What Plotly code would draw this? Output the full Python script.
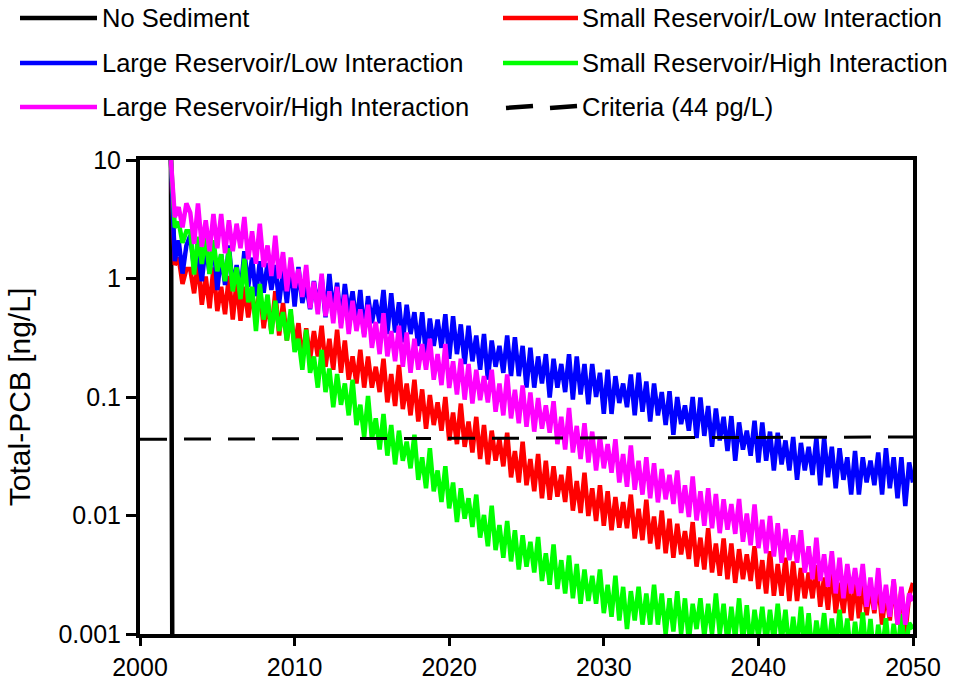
import plotly.graph_objects as go

# Quarterly time steps of the model run, 2002.0 - 2050.0
years = [2002 + 0.25 * k for k in range(193)]

# Total-PCB water-column concentration [ng/L], one row per year (4 quarters)
no_sediment_years = [2002.0, 2002.15, 2050.0]
no_sediment = [10.0, 1e-6, 1e-6]

small_low = [10.0,
    1.3, 1.5, 0.9, 1.2,
    1.2, 0.75, 1.35, 0.6,
    1.04, 0.56, 1.24, 0.53,
    0.85, 0.5, 1.05, 0.45,
    0.94, 0.44, 0.85, 0.47,
    0.75, 0.45, 0.85, 0.38,
    0.65, 0.35, 0.78, 0.33,
    0.62, 0.3, 0.5, 0.27,
    0.42, 0.2, 0.38, 0.21,
    0.36, 0.22, 0.4, 0.18,
    0.31, 0.17, 0.37, 0.16,
    0.3, 0.14, 0.22, 0.13,
    0.25, 0.12, 0.22, 0.12,
    0.18, 0.11, 0.21, 0.09,
    0.156, 0.084, 0.186, 0.079,
    0.13, 0.07, 0.14, 0.062,
    0.116, 0.054, 0.104, 0.058,
    0.09, 0.052, 0.1, 0.043,
    0.074, 0.04, 0.088, 0.038,
    0.062, 0.034, 0.068, 0.03,
    0.058, 0.027, 0.052, 0.029,
    0.044, 0.026, 0.05, 0.021,
    0.035, 0.019, 0.042, 0.018,
    0.03, 0.016, 0.033, 0.014,
    0.029, 0.0136, 0.026, 0.0144,
    0.022, 0.013, 0.026, 0.011,
    0.0195, 0.0105, 0.023, 0.0099,
    0.017, 0.009, 0.018, 0.0082,
    0.016, 0.0075, 0.0143, 0.0079,
    0.013, 0.0078, 0.015, 0.0064,
    0.0114, 0.0062, 0.0136, 0.0058,
    0.0098, 0.0052, 0.011, 0.0048,
    0.0094, 0.0044, 0.0085, 0.0047,
    0.0074, 0.0043, 0.0088, 0.0037,
    0.0065, 0.0035, 0.0078, 0.0033,
    0.0058, 0.0031, 0.0064, 0.0029,
    0.0058, 0.0027, 0.0052, 0.0029,
    0.0047, 0.0028, 0.0055, 0.0024,
    0.0042, 0.0022, 0.005, 0.0021,
    0.0039, 0.0021, 0.0044, 0.0019,
    0.0041, 0.0019, 0.0036, 0.002,
    0.0033, 0.002, 0.0038, 0.0017,
    0.003, 0.0016, 0.0036, 0.0015,
    0.0027, 0.0015, 0.003, 0.0013,
    0.0029, 0.00136, 0.0026, 0.00144,
    0.0025, 0.0015, 0.0028, 0.0012,
    0.0023, 0.0013, 0.0028, 0.0012,
    0.0024, 0.001, 0.0021, 0.0027,
]

large_low = [10.0,
    1.4, 2.1, 1.1, 1.9,
    2.3, 1.2, 1.6, 0.95,
    1.9, 1.1, 2.1, 0.8,
    1.6, 0.88, 1.9, 0.83,
    1.3, 0.75, 1.7, 0.85,
    1.5, 0.71, 1.4, 0.76,
    1.35, 0.8, 1.3, 0.62,
    1.15, 0.62, 1.35, 0.58,
    1.25, 0.62, 0.9, 0.55,
    0.95, 0.58, 1.02, 0.47,
    1.09, 0.51, 0.92, 0.42,
    0.9, 0.5, 0.78, 0.41,
    0.8, 0.34, 0.71, 0.42,
    0.66, 0.42, 0.8, 0.34,
    0.75, 0.35, 0.63, 0.29,
    0.6, 0.34, 0.52, 0.27,
    0.52, 0.22, 0.46, 0.27,
    0.45, 0.26, 0.5, 0.21,
    0.48, 0.23, 0.41, 0.19,
    0.4, 0.2, 0.33, 0.17,
    0.34, 0.14, 0.3, 0.18,
    0.27, 0.16, 0.33, 0.15,
    0.32, 0.15, 0.27, 0.12,
    0.26, 0.12, 0.22, 0.13,
    0.23, 0.099, 0.21, 0.12,
    0.19, 0.11, 0.23, 0.095,
    0.22, 0.105, 0.19, 0.087,
    0.19, 0.1, 0.16, 0.072,
    0.17, 0.072, 0.15, 0.089,
    0.13, 0.082, 0.155, 0.07,
    0.16, 0.075, 0.135, 0.062,
    0.13, 0.07, 0.11, 0.058,
    0.112, 0.048, 0.1, 0.059,
    0.085, 0.052, 0.1, 0.045,
    0.099, 0.047, 0.084, 0.038,
    0.08, 0.043, 0.068, 0.035,
    0.069, 0.029, 0.061, 0.036,
    0.052, 0.032, 0.063, 0.028,
    0.061, 0.029, 0.051, 0.024,
    0.05, 0.027, 0.043, 0.024,
    0.046, 0.02, 0.041, 0.024,
    0.038, 0.022, 0.045, 0.018,
    0.045, 0.021, 0.038, 0.017,
    0.037, 0.02, 0.031, 0.015,
    0.035, 0.015, 0.031, 0.019,
    0.029, 0.018, 0.034, 0.015,
    0.037, 0.017, 0.031, 0.014,
    0.031, 0.012, 0.028, 0.019,
]

small_high = [10.0,
    2.7, 3.0, 2.0, 2.5,
    2.5, 1.08, 2.25, 1.33,
    2.3, 1.09, 2.1, 1.15,
    1.6, 0.95, 1.8, 0.78,
    1.24, 0.67, 1.47, 0.63,
    0.85, 0.36, 0.9, 0.45,
    0.73, 0.34, 0.65, 0.36,
    0.52, 0.3, 0.55, 0.24,
    0.31, 0.17, 0.37, 0.16,
    0.22, 0.12, 0.25, 0.11,
    0.174, 0.082, 0.156, 0.086,
    0.13, 0.07, 0.14, 0.058,
    0.086, 0.046, 0.102, 0.044,
    0.066, 0.036, 0.072, 0.032,
    0.058, 0.027, 0.052, 0.029,
    0.042, 0.025, 0.048, 0.02,
    0.031, 0.017, 0.037, 0.016,
    0.024, 0.013, 0.026, 0.0115,
    0.019, 0.0088, 0.017, 0.0094,
    0.014, 0.008, 0.015, 0.0065,
    0.0101, 0.0055, 0.0121, 0.0051,
    0.0083, 0.0044, 0.009, 0.0041,
    0.0075, 0.0035, 0.0068, 0.0037,
    0.006, 0.0033, 0.0066, 0.0028,
    0.0048, 0.0026, 0.0057, 0.0024,
    0.0042, 0.0022, 0.0046, 0.002,
    0.0039, 0.0018, 0.0035, 0.0019,
    0.0031, 0.0018, 0.0035, 0.0015,
    0.0026, 0.0014, 0.0031, 0.0013,
    0.0025, 0.0011, 0.0023, 0.0013,
    0.0025, 0.0012, 0.0022, 0.0012,
    0.0026, 0.0012, 0.0022, 0.001,
    0.002, 0.00105, 0.0023, 0.001,
    0.002, 0.00087, 0.0018, 0.0011,
    0.002, 0.00095, 0.0018, 0.001,
    0.0022, 0.001, 0.0018, 0.00084,
    0.0017, 0.00091, 0.002, 0.00086,
    0.00175, 0.00075, 0.0016, 0.00093,
    0.0017, 0.00082, 0.0016, 0.00086,
    0.0018, 0.00086, 0.0016, 0.00071,
    0.0014, 0.00077, 0.0017, 0.00073,
    0.0015, 0.00064, 0.0013, 0.00079,
    0.0015, 0.00071, 0.00135, 0.00075,
    0.0016, 0.00075, 0.00135, 0.00062,
    0.00127, 0.00069, 0.00152, 0.00065,
    0.00134, 0.00058, 0.0012, 0.00071,
    0.00136, 0.00064, 0.00122, 0.00068,
    0.00147, 0.00069, 0.00124, 0.0011,
]

large_high = [10.0,
    3.3, 4.0, 2.7, 4.3,
    3.6, 1.96, 4.3, 1.85,
    3.1, 1.7, 3.5, 1.8,
    3.5, 1.63, 3.1, 1.7,
    2.9, 1.8, 3.3, 1.45,
    2.5, 1.33, 2.9, 1.25,
    1.9, 1.05, 2.3, 1.0,
    1.67, 0.78, 1.5, 0.83,
    1.2, 0.7, 1.3, 0.56,
    0.94, 0.5, 1.1, 0.48,
    0.78, 0.42, 0.85, 0.38,
    0.73, 0.34, 0.65, 0.36,
    0.55, 0.32, 0.6, 0.26,
    0.43, 0.23, 0.51, 0.22,
    0.36, 0.2, 0.4, 0.18,
    0.35, 0.16, 0.31, 0.17,
    0.28, 0.17, 0.31, 0.14,
    0.23, 0.126, 0.28, 0.119,
    0.2, 0.105, 0.21, 0.095,
    0.19, 0.088, 0.17, 0.094,
    0.15, 0.09, 0.17, 0.075,
    0.13, 0.07, 0.155, 0.066,
    0.115, 0.06, 0.125, 0.056,
    0.109, 0.051, 0.098, 0.054,
    0.085, 0.05, 0.092, 0.04,
    0.068, 0.036, 0.081, 0.034,
    0.057, 0.03, 0.06, 0.028,
    0.051, 0.024, 0.046, 0.025,
    0.04, 0.023, 0.044, 0.019,
    0.033, 0.0175, 0.039, 0.0165,
    0.029, 0.015, 0.031, 0.014,
    0.0276, 0.0129, 0.0247, 0.0137,
    0.022, 0.0125, 0.024, 0.0105,
    0.018, 0.0097, 0.0214, 0.0091,
    0.016, 0.0082, 0.017, 0.0078,
    0.0152, 0.0071, 0.0137, 0.0076,
    0.0125, 0.007, 0.0138, 0.006,
    0.0104, 0.0056, 0.0124, 0.0053,
    0.0092, 0.0048, 0.0099, 0.0045,
    0.0086, 0.004, 0.0077, 0.0042,
    0.0068, 0.004, 0.0075, 0.0033,
    0.0055, 0.0029, 0.0065, 0.0028,
    0.0047, 0.0025, 0.005, 0.0022,
    0.0044, 0.002, 0.0039, 0.0022,
    0.0036, 0.0021, 0.0039, 0.0017,
    0.003, 0.0016, 0.0036, 0.0015,
    0.0026, 0.0014, 0.0029, 0.0012,
    0.0025, 0.0012, 0.0022, 0.0019,
]

criteria_years = [2000, 2050]
criteria = [0.044, 0.046]

x_ticks = [2000, 2010, 2020, 2030, 2040, 2050]
y_ticks = [0.001, 0.01, 0.1, 1, 10]
y_tick_labels = ["0.001", "0.01", "0.1", "1", "10"]

FONT = "Arial, Liberation Sans, sans-serif"
LW = 4.5

series = [
    ("No Sediment", no_sediment_years, no_sediment, "#000000", "solid"),
    ("Small Reservoir/Low Interaction", years, small_low, "#FF0000", "solid"),
    ("Large Reservoir/Low Interaction", years, large_low, "#0000FF", "solid"),
    ("Small Reservoir/High Interaction", years, small_high, "#00FF00", "solid"),
    ("Large Reservoir/High Interaction", years, large_high, "#FF00FF", "solid"),
    ("Criteria (44 pg/L)", criteria_years, criteria, "#000000", "27px,17px"),
]

fig = go.Figure()
for name, xs, ys, color, dash in series:
    fig.add_trace(go.Scatter(
        x=xs, y=ys, mode="lines", name=name,
        line=dict(color=color, width=3 if dash != "solid" else LW, dash=dash),
        showlegend=False,
    ))

# Two-column legend above the plot area
L, R, T, B = 140, 913, 160, 634
W, H = R - L, B - T


def px(xp):
    return (xp - L) / W


def py(yp):
    return (B - yp) / H


legend_rows = [18, 63, 107]
legend_cols = [(20, 97, 100), (503, 578, 580)]
shapes = []
annotations = []
for i, (name, _, _, color, dash) in enumerate(series):
    row, col = divmod(i, 2)
    x0, x1, xt = legend_cols[col]
    y = legend_rows[row]
    if dash == "solid":
        shapes.append(dict(type="line", xref="paper", yref="paper",
                           x0=px(x0), x1=px(x1), y0=py(y), y1=py(y),
                           line=dict(color=color, width=LW)))
    else:
        for a, b in ((x0 + 3, x0 + 30), (x0 + 47, x0 + 74)):
            shapes.append(dict(type="line", xref="paper", yref="paper",
                               x0=px(a), x1=px(b), y0=py(y + 1), y1=py(y - 1),
                               line=dict(color=color, width=LW)))
    annotations.append(dict(text=name, xref="paper", yref="paper",
                            x=px(xt), y=py(y), xanchor="left", yanchor="middle",
                            showarrow=False,
                            font=dict(family=FONT, size=25.5, color="black")))

fig.update_layout(
    width=953, height=685,
    margin=dict(l=L, r=953 - R, t=T, b=685 - B, pad=0, autoexpand=False),
    paper_bgcolor="white", plot_bgcolor="white",
    font=dict(family=FONT, size=25, color="black"),
    shapes=shapes, annotations=annotations,
    showlegend=False,
)
fig.update_xaxes(
    range=[2000, 2050], tickvals=x_ticks, ticks="outside", ticklen=8,
    tickwidth=3, tickcolor="black", showgrid=False, zeroline=False,
    showline=True, linewidth=4, linecolor="black", mirror=True,
    tickfont=dict(family=FONT, size=25), automargin=False,
)
fig.update_yaxes(
    type="log", range=[-3, 1], tickvals=y_ticks, ticktext=y_tick_labels,
    ticks="outside", ticklen=10, tickwidth=3, tickcolor="black",
    showgrid=False, zeroline=False, showline=True, linewidth=4,
    linecolor="black", mirror=True, automargin=False,
    tickfont=dict(family=FONT, size=25),
    title=dict(text="Total-PCB [ng/L]", font=dict(family=FONT, size=30), standoff=20),
)

fig.write_html("out.html")
